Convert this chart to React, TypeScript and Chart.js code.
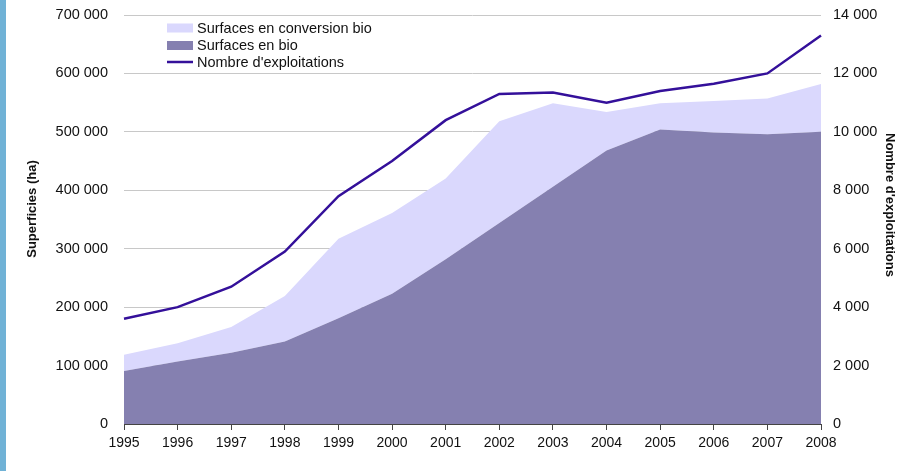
import { useEffect, useRef } from 'react';
import { Chart, registerables } from 'chart.js';

Chart.register(...registerables);

const W = 902;
const H = 471;
const FONT = '"Liberation Sans", Arial, Helvetica, sans-serif';

const years = ['1995', '1996', '1997', '1998', '1999', '2000', '2001', '2002', '2003', '2004', '2005', '2006', '2007', '2008'];
const surfacesBio = [90600, 107000, 122000, 141000, 181000, 223000, 282000, 344000, 406000, 468000, 504000, 499000, 496000, 500000];
const surfacesConversion = [28000, 31000, 44000, 78000, 136000, 138000, 138000, 174000, 143000, 66000, 45000, 54000, 61000, 82000];
const exploitations = [3600, 4000, 4700, 5900, 7800, 9000, 10400, 11300, 11350, 11000, 11400, 11650, 12000, 13300];

const labelBio = 'Surfaces en bio';
const labelConversion = 'Surfaces en conversion bio';
const labelExploit = "Nombre d'exploitations";
const titleLeft = 'Superficies (ha)';
const titleRight = "Nombre d'exploitations";

const colorBio = '#8580b0';
const colorConversion = '#dad8fd';
const colorLine = '#34109a';

const fmt = (v: number | string) =>
  String(v).replace(/\B(?=(\d{3})+(?!\d))/g, ' ');

const overlayPlugin = {
  id: 'overlay',
  afterDraw(chart: any) {
    const ctx = chart.ctx as CanvasRenderingContext2D;
    // axis titles
    ctx.save();
    ctx.font = `bold 13px ${FONT}`;
    ctx.fillStyle = '#111';
    ctx.textAlign = 'center';
    ctx.textBaseline = 'middle';
    ctx.translate(32, 209);
    ctx.rotate(-Math.PI / 2);
    ctx.fillText(titleLeft, 0, 0);
    ctx.restore();

    ctx.save();
    ctx.font = `bold 13px ${FONT}`;
    ctx.fillStyle = '#111';
    ctx.textAlign = 'center';
    ctx.textBaseline = 'middle';
    ctx.translate(890, 205);
    ctx.rotate(Math.PI / 2);
    ctx.fillText(titleRight, 0, 0);
    ctx.restore();

    // legend
    const order = [1, 0, 2];
    const rows = [28, 45.5, 62];
    ctx.save();
    ctx.font = `14.5px ${FONT}`;
    ctx.textAlign = 'left';
    ctx.textBaseline = 'middle';
    order.forEach((di, i) => {
      const ds = chart.data.datasets[di];
      const y = rows[i];
      if (ds.type === 'line' && !ds.fill) {
        ctx.strokeStyle = ds.borderColor;
        ctx.lineWidth = 2.5;
        ctx.beginPath();
        ctx.moveTo(167, y);
        ctx.lineTo(193, y);
        ctx.stroke();
      } else {
        ctx.fillStyle = ds.backgroundColor;
        ctx.fillRect(167, y - 4.5, 26, 9);
      }
      ctx.fillStyle = '#111';
      ctx.fillText(ds.label, 197, y + 0.5);
    });
    ctx.restore();
  },
};

export default function App() {
  const ref = useRef<HTMLCanvasElement>(null);

  useEffect(() => {
    if (!ref.current) return;
    Chart.defaults.font.family = FONT;
    const chart = new Chart(ref.current, {
      type: 'line',
      data: {
        labels: years,
        datasets: [
          {
            type: 'line',
            label: labelBio,
            data: surfacesBio,
            yAxisID: 'y',
            stack: 'surf',
            fill: 'origin',
            backgroundColor: colorBio,
            borderColor: colorBio,
            borderWidth: 0,
            pointRadius: 0,
            tension: 0,
            order: 2,
          },
          {
            type: 'line',
            label: labelConversion,
            data: surfacesConversion,
            yAxisID: 'y',
            stack: 'surf',
            fill: '-1',
            backgroundColor: colorConversion,
            borderColor: colorConversion,
            borderWidth: 0,
            pointRadius: 0,
            tension: 0,
            order: 3,
          },
          {
            type: 'line',
            label: labelExploit,
            data: exploitations,
            yAxisID: 'y1',
            fill: false,
            borderColor: colorLine,
            backgroundColor: colorLine,
            borderWidth: 2.5,
            pointRadius: 0,
            tension: 0,
            order: 1,
          },
        ],
      },
      options: {
        responsive: false,
        animation: false,
        devicePixelRatio: 1,
        layout: { padding: { top: 15, left: 0, right: 0, bottom: 0 } },
        plugins: {
          legend: { display: false },
          tooltip: { enabled: false },
        },
        scales: {
          x: {
            type: 'category',
            offset: false,
            grid: {
              display: true,
              drawOnChartArea: false,
              drawTicks: true,
              tickLength: 6,
              color: '#444',
            },
            border: { display: true, color: '#444', width: 1 },
            ticks: {
              font: { size: 14, family: FONT },
              color: '#111',
              padding: 5,
              maxRotation: 0,
              autoSkip: false,
            },
            afterFit: (s: any) => {
              s.height = 47;
            },
          },
          y: {
            position: 'left',
            stacked: true,
            min: 0,
            max: 700000,
            ticks: {
              stepSize: 100000,
              padding: 16,
              color: '#111',
              font: { size: 14.5, family: FONT },
              callback: (v: any) => fmt(v),
            },
            grid: { color: '#c8c8c8', drawTicks: false, lineWidth: 1 },
            border: { display: false },
            afterFit: (s: any) => {
              s.width = 124;
              s.paddingTop = 0;
              s.paddingBottom = 0;
            },
          },
          y1: {
            position: 'right',
            stacked: false,
            min: 0,
            max: 14000,
            ticks: {
              stepSize: 2000,
              padding: 12,
              color: '#111',
              font: { size: 14.5, family: FONT },
              callback: (v: any) => fmt(v),
            },
            grid: { display: false, drawTicks: false },
            border: { display: false },
            afterFit: (s: any) => {
              s.width = 81;
              s.paddingTop = 0;
              s.paddingBottom = 0;
            },
          },
        },
      },
      plugins: [overlayPlugin],
    } as any);
    return () => chart.destroy();
  }, []);

  return (
    <div style={{ position: 'fixed', left: 0, top: 0, width: W, height: H, background: '#fff' }}>
      <canvas
        ref={ref}
        width={W}
        height={H}
        style={{ position: 'absolute', left: 0, top: 0, width: W, height: H }}
      />
      <div style={{ position: 'absolute', left: 0, top: 0, width: 6, height: H, background: '#70b2d6' }} />
    </div>
  );
}
